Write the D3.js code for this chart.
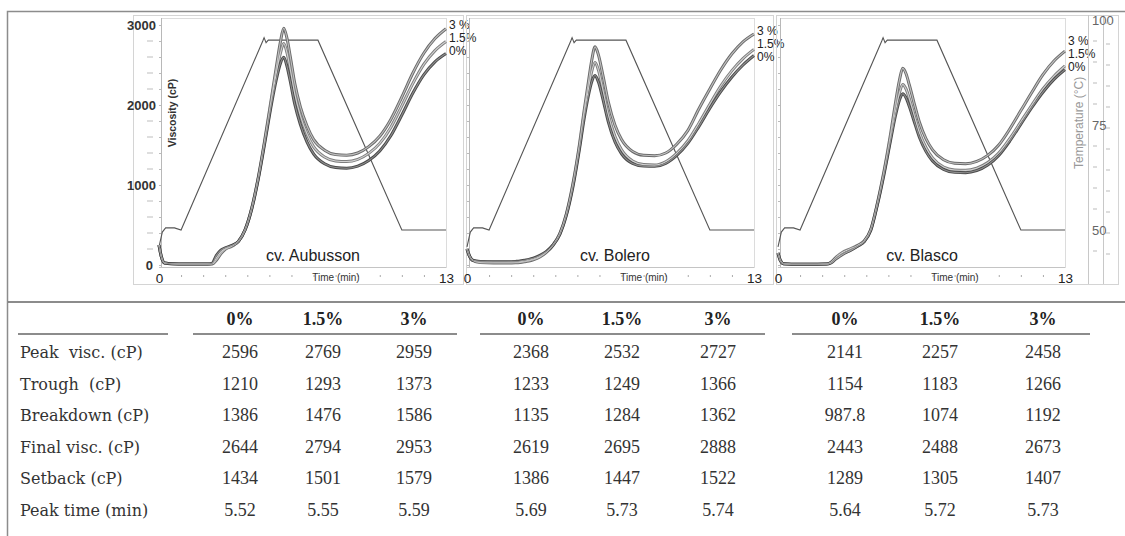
<!DOCTYPE html>
<html><head><meta charset="utf-8">
<script src="https://cdn.jsdelivr.net/npm/d3@7"></script>
<style>body{margin:0;background:#fff}svg{display:block}</style>
</head><body><svg id="c" width="1125" height="536"></svg>
<script>
// ---------------- DATA ----------------
const cultivars = ["cv. Aubusson", "cv. Bolero", "cv. Blasco"];
const concentrations = ["0%", "1.5%", "3%"];
const curveLabels = ["3 %", "1.5%", "0%"];
const timeGrid = [0,0.1,0.25,0.6,1.2,1.8,2.2,2.4,2.6,2.8,3.0,3.3,3.6,3.9,4.2,4.5,4.8,5.1,5.3,5.5,5.65,5.8,5.95,6.15,6.4,6.7,7.0,7.5,8.0,8.5,9.0,9.5,10.0,10.5,11.0,11.5,12.0,12.5,13.0];

const aubusson0  = [250,110,25,15,12,12,12,20,120,185,215,245,295,440,700,1080,1540,2020,2300,2520,2596,2480,2290,2010,1760,1540,1390,1265,1218,1210,1235,1305,1425,1615,1875,2150,2380,2540,2644];
const aubusson15 = [250,110,25,15,12,12,12,15,90,165,205,240,295,440,705,1090,1560,2060,2380,2650,2769,2650,2440,2140,1870,1640,1480,1350,1300,1293,1320,1395,1520,1720,1990,2270,2510,2680,2794];
const aubusson3  = [250,110,25,15,12,12,12,12,60,140,195,235,295,440,710,1100,1580,2100,2450,2790,2959,2830,2600,2270,1980,1740,1570,1435,1380,1373,1400,1480,1610,1820,2100,2400,2650,2830,2953];

const bolero0  = [200,120,60,45,40,40,45,50,60,70,85,120,170,250,380,620,980,1460,1820,2120,2290,2368,2290,2080,1790,1540,1390,1270,1236,1233,1270,1370,1520,1730,1960,2170,2350,2500,2619];
const bolero15 = [200,120,60,40,35,35,38,42,50,60,75,110,165,250,385,630,1000,1490,1870,2200,2420,2532,2440,2200,1880,1610,1440,1300,1255,1249,1290,1395,1550,1770,2010,2240,2430,2580,2695];
const bolero3  = [200,120,60,30,25,25,28,32,40,50,65,100,160,250,390,640,1020,1520,1920,2290,2560,2727,2630,2380,2040,1750,1570,1420,1372,1366,1400,1510,1680,1950,2200,2440,2640,2790,2888];

const blasco0  = [150,60,15,10,10,10,12,30,80,120,150,190,235,290,430,750,1130,1560,1840,2060,2141,2090,1980,1810,1600,1420,1300,1195,1158,1154,1180,1250,1370,1550,1760,1970,2160,2320,2443];
const blasco15 = [150,60,15,10,10,10,12,35,90,135,170,205,245,300,440,760,1150,1590,1890,2150,2257,2200,2080,1890,1660,1470,1340,1225,1188,1183,1210,1280,1400,1580,1790,2000,2200,2360,2488];
const blasco3  = [150,60,15,10,10,10,12,25,70,110,145,185,235,295,440,770,1170,1640,1990,2310,2458,2390,2250,2040,1790,1580,1440,1315,1272,1266,1295,1370,1500,1700,1930,2160,2380,2550,2673];

const tempTime  = [0,0.15,0.3,0.7,1.0,4.7,4.76,4.85,4.95,7.2,11.0,13.0];
const tempValue = [46,49.5,50.5,50.5,50,95,95.8,94.6,95.2,95.2,50,50];

const viscMajorTicks = [0,1000,2000,3000];
const tempMajorTicks = [50,75,100];

const tableHeader = ["0%", "1.5%", "3%"];
const tableRows = ["Peak  visc. (cP)", "Trough  (cP)", "Breakdown (cP)", "Final visc. (cP)", "Setback (cP)", "Peak time (min)"];
const aubussonTable = [["2596","2769","2959"],["1210","1293","1373"],["1386","1476","1586"],["2644","2794","2953"],["1434","1501","1579"],["5.52","5.55","5.59"]];
const boleroTable   = [["2368","2532","2727"],["1233","1249","1366"],["1135","1284","1362"],["2619","2695","2888"],["1386","1447","1522"],["5.69","5.73","5.74"]];
const blascoTable   = [["2141","2257","2458"],["1154","1183","1266"],["987.8","1074","1192"],["2443","2488","2673"],["1289","1305","1407"],["5.64","5.72","5.73"]];

// ---------------- LAYOUT ----------------
const svg = d3.select("#c");
const SANS = "'Liberation Sans', Arial, sans-serif";
const NARROW = "'Liberation Sans Narrow', 'Liberation Sans', Arial, sans-serif";
const SERIF = "'Liberation Serif', 'Times New Roman', serif";
const SERIF2 = "'DejaVu Serif', serif";

// outer figure frame
svg.append("path").attr("d", "M7.5,536 V11.5 H1125").attr("fill", "none")
  .attr("stroke", "#8c8c8c").attr("stroke-width", 1.5);

const panelX0 = [159, 467, 778];
const panelSpan = 287;
const frames = [[133,15,463,284],[466,15,773,284],[776,15,1118,284]];
const labelTop = [24, 30, 40];
const curveData = [[aubusson0, aubusson15, aubusson3],[bolero0, bolero15, bolero3],[blasco0, blasco15, blasco3]];
const outerCol = ["#4a4a4a", "#7d7d7d", "#6a6a6a"];
const innerCol = ["#8e8e8e", "#d2d2d2", "#c0c0c0"];

const y = d3.scaleLinear().domain([0, 3000]).range([265, 25]);
const yT = d3.scaleLinear().domain([50, 100]).range([230, 20]);

cultivars.forEach((cv, i) => {
  const x0 = panelX0[i];
  const x = d3.scaleLinear().domain([0, 13]).range([x0, x0 + panelSpan]);
  const g = svg.append("g");
  const f = frames[i];
  g.append("rect").attr("x", f[0] + 0.5).attr("y", f[1] + 0.5).attr("width", f[2] - f[0]).attr("height", f[3] - f[1])
    .attr("fill", "none").attr("stroke", "#d4d4d4");
  // plot area borders
  g.append("rect").attr("x", x0 + 2.5).attr("y", 18.5).attr("width", panelSpan - 2).attr("height", 249)
    .attr("fill", "none").attr("stroke", "#dcdcdc");
  g.append("line").attr("x1", x0 + 2.5).attr("x2", x0 + 2.5).attr("y1", 18).attr("y2", 268).attr("stroke", "#b8b8b8");
  g.append("line").attr("x1", x0).attr("x2", x0 + panelSpan).attr("y1", 267.5).attr("y2", 267.5).attr("stroke", "#c4c4c4");

  // x axis (ticks only at each minute; labels for 0 and 13)
  const xa = g.append("g").attr("transform", "translate(0,268)")
    .call(d3.axisBottom(x).tickValues(d3.range(0, 14)).tickSize(0).tickPadding(5)
      .tickFormat(d => (d === 0 || d === 13) ? d : ""));
  xa.select(".domain").remove();
  xa.selectAll("text").attr("font-family", NARROW).attr("font-size", 13.5).attr("fill", "#222");
  xa.selectAll(".tick").filter(d => d !== 0 && d !== 13).append("line")
    .attr("x1", 0).attr("x2", 0).attr("y1", 7).attr("y2", 9).attr("stroke", "#aaa");
  g.append("text").attr("x", x0 + 177).attr("y", 281).attr("text-anchor", "middle")
    .attr("font-family", NARROW).attr("font-size", 10).attr("fill", "#333").text("Time (min)");

  // y axis minor marks on every panel
  const ya = g.append("g").attr("transform", `translate(${x0 + 2},0)`)
    .call(d3.axisLeft(y).tickValues(d3.range(0, 3001, 200)).tickSize(2).tickFormat(""));
  ya.select(".domain").remove();
  ya.selectAll("line").attr("stroke", "#bbb");

  // temperature profile
  const tLine = d3.line().x((d, k) => x(tempTime[k])).y(d => yT(d)).curve(d3.curveLinear);
  g.append("path").datum(tempValue).attr("d", tLine).attr("fill", "none").attr("stroke", "#555").attr("stroke-width", 1.1);

  // viscosity curves
  const vLine = d3.line().x((d, k) => x(timeGrid[k])).y(d => y(d)).curve(d3.curveMonotoneX);
  [2, 1, 0].forEach(c => {
    g.append("path").datum(curveData[i][c]).attr("d", vLine).attr("fill", "none")
      .attr("stroke", outerCol[c]).attr("stroke-width", 3);
  });
  [2, 1, 0].forEach(c => {
    g.append("path").datum(curveData[i][c]).attr("d", vLine).attr("fill", "none")
      .attr("stroke", innerCol[c]).attr("stroke-width", 1.1);
  });

  // curve labels
  curveLabels.forEach((lab, k) => {
    g.append("text").attr("x", x0 + panelSpan + 3).attr("y", labelTop[i] + k * 13 + 4.5)
      .attr("font-family", SANS).attr("font-size", 12).attr("fill", "#222").text(lab);
  });

  // cultivar name
  g.append("text").attr("x", x0 + [154, 148, 144][i]).attr("y", 261).attr("text-anchor", "middle")
    .attr("font-family", SANS).attr("font-size", 16).attr("fill", "#222").text(cv);
});

// y axis labels (panel 1)
const yAxisG = svg.append("g").attr("transform", "translate(156,0)")
  .call(d3.axisLeft(y).tickValues(viscMajorTicks).tickSize(0).tickPadding(0).tickFormat(d3.format("d")));
yAxisG.select(".domain").remove();
yAxisG.selectAll("text").attr("font-family", NARROW).attr("font-size", 13).attr("font-weight", "bold").attr("fill", "#333");
yAxisG.selectAll(".tick").filter(d => d === 0).select("text").attr("dx", -3);
svg.append("g").selectAll("line").data(d3.range(200, 3000, 200).filter(v => v % 1000 !== 0)).join("line")
  .attr("x1", 147).attr("x2", 153).attr("y1", d => y(d)).attr("y2", d => y(d)).attr("stroke", "#c8c8c8").attr("stroke-width", 1.2);
svg.append("text").attr("transform", `translate(176,${y(1900)}) rotate(-90)`).attr("text-anchor", "middle")
  .attr("font-family", SANS).attr("font-size", 10.5).attr("font-weight", "bold").attr("fill", "#333").text("Viscosity (cP)");

// temperature axis (right of panel 3)
svg.append("line").attr("x1", 1088.5).attr("x2", 1088.5).attr("y1", 15).attr("y2", 284).attr("stroke", "#c8c8c8");
svg.append("line").attr("x1", 1103.5).attr("x2", 1103.5).attr("y1", 15).attr("y2", 284).attr("stroke", "#c8c8c8");
const tAxis = svg.append("g").attr("transform", "translate(1090,0)")
  .call(d3.axisRight(yT).tickValues(tempMajorTicks).tickSize(0).tickPadding(2).tickFormat(d3.format("d")));
tAxis.select(".domain").remove();
tAxis.selectAll("text").attr("font-family", SANS).attr("font-size", 13).attr("fill", "#666");
svg.append("g").selectAll("line").data(d3.range(45, 100, 5).filter(v => v !== 50 && v !== 75)).join("line")
  .attr("x1", 1093).attr("x2", 1097).attr("y1", d => yT(d)).attr("y2", d => yT(d)).attr("stroke", "#bbb");
svg.append("g").selectAll("line").data(d3.range(45, 101, 5)).join("line")
  .attr("x1", 1106).attr("x2", 1110).attr("y1", d => yT(d) + 3).attr("y2", d => yT(d) + 3).attr("stroke", "#bbb");
svg.append("text").attr("transform", `translate(1083,${yT(75.5)}) rotate(-90)`).attr("text-anchor", "middle")
  .attr("font-family", SANS).attr("font-size", 12).attr("fill", "#999").text("Temperature (°C)");

// ---------------- TABLE ----------------
const T = svg.append("g");
T.append("line").attr("x1", 8).attr("x2", 1125).attr("y1", 302).attr("y2", 302).attr("stroke", "#666").attr("stroke-width", 1.6);
const ruleSegs = [[18, 168], [193, 457], [480, 765], [792, 1090]];
T.selectAll("line.seg").data(ruleSegs).join("line").attr("class", "seg")
  .attr("x1", d => d[0]).attr("x2", d => d[1]).attr("y1", 334).attr("y2", 334).attr("stroke", "#666").attr("stroke-width", 1.3);

const colCenters = [[240, 323, 414], [531, 622, 718], [845, 940, 1043]];
const tables = [aubussonTable, boleroTable, blascoTable];
const rowY = d3.scalePoint().domain(tableRows).range([358, 516]);

colCenters.forEach((cols, gi) => {
  tableHeader.forEach((h, ci) => {
    T.append("text").attr("x", cols[ci]).attr("y", 325).attr("text-anchor", "middle")
      .attr("font-family", SERIF).attr("font-size", 18).attr("font-weight", "bold").attr("fill", "#222").text(h);
  });
  tables[gi].forEach((row, ri) => {
    row.forEach((v, ci) => {
      T.append("text").attr("x", cols[ci]).attr("y", rowY(tableRows[ri])).attr("text-anchor", "middle")
        .attr("font-family", SERIF).attr("font-size", 18).attr("fill", "#333").text(v);
    });
  });
});
tableRows.forEach(r => {
  T.append("text").attr("x", 20).attr("y", rowY(r)).attr("font-family", SERIF2).attr("font-size", 16)
    .attr("fill", "#333").style("white-space", "pre").text(r);
});
</script>
</body></html>
